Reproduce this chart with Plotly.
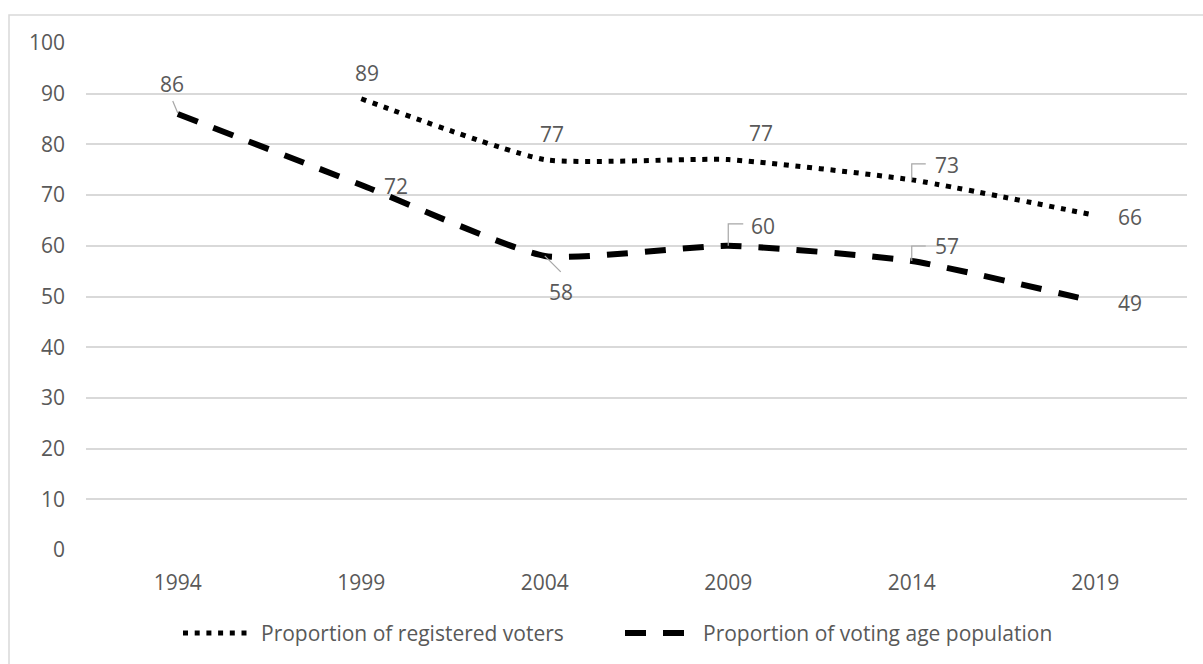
import plotly.graph_objects as go

# ---- data -------------------------------------------------------------
years = ["1994", "1999", "2004", "2009", "2014", "2019"]
registered_name = "Proportion of registered voters"
registered = [None, 89, 77, 77, 73, 66]
vap_name = "Proportion of voting age population"
vap = [86, 72, 58, 60, 57, 49]

# ---- geometry / style ---------------------------------------------------
W, H = 1203, 664
L, R, T, B = 86, 16, 43, 114
PW, PH = W - L - R, H - T - B
FONT = "Open Sans"
FS = 21
TXT = "#595959"
GRID = "#d9d9d9"
LEADER = "#a6a6a6"
DOT = "5px,6.7px"
DASH = "21px,17px"
SMOOTH = 0.5


def px_x(px):
    return (px - L) / PW


def px_y(py):
    return (H - B - py) / PH


fig = go.Figure()
fig.add_trace(go.Scatter(
    x=years, y=registered, name=registered_name, mode="lines",
    line=dict(color="black", width=5, dash=DOT, shape="spline", smoothing=SMOOTH),
    connectgaps=False, showlegend=False, hoverinfo="skip"))
fig.add_trace(go.Scatter(
    x=years, y=vap, name=vap_name, mode="lines",
    line=dict(color="black", width=6, dash=DASH, shape="spline", smoothing=SMOOTH),
    showlegend=False, hoverinfo="skip"))

# label offsets (pixels) and optional leader paths, keyed by series/year
reg_labels = {
    "1999": (6, 26, None),
    "2004": (7, 26, None),
    "2009": (33, 27, None),
    "2014": (35, 15, "M0,0 L0,16 L14,16"),
    "2019": (35, -2, None),
}
vap_labels = {
    "1994": (-6, 30, "M0,1 L-5,13"),
    "1999": (35, -1, None),
    "2004": (16, -36, "M0,0 L16,-16"),
    "2009": (35, 20, "M0,0 L0,22 L15,22"),
    "2014": (35, 15, "M0,0 L0,15 L14,15"),
    "2019": (35, -1, None),
}

annotations = []
shapes = []
for values, spec in ((registered, reg_labels), (vap, vap_labels)):
    for i, (yr, v) in enumerate(zip(years, values)):
        if v is None or yr not in spec:
            continue
        dx, dy, path = spec[yr]
        annotations.append(dict(
            x=i, y=v, xref="x", yref="y", text=str(v), showarrow=False,
            xshift=dx, yshift=dy, font=dict(family=FONT, size=FS, color=TXT)))
        if path:
            shapes.append(dict(
                type="path", xref="x", yref="y", xsizemode="pixel",
                ysizemode="pixel", xanchor=i, yanchor=v, path=path,
                line=dict(color=LEADER, width=1.2)))

# legend drawn by hand so the line samples keep their long length
legend_y = 633
for name, dash, width, x0, x1, tx in (
        (registered_name, DOT, 5, 183, 250, 259),
        (vap_name, DASH, 6, 625, 693, 701)):
    shapes.append(dict(
        type="line", xref="paper", yref="paper",
        x0=px_x(x0), x1=px_x(x1), y0=px_y(legend_y), y1=px_y(legend_y),
        line=dict(color="black", width=width, dash=dash)))
    annotations.append(dict(
        x=px_x(tx), y=px_y(legend_y), xref="paper", yref="paper",
        xanchor="left", yanchor="middle", text=name, showarrow=False,
        font=dict(family=FONT, size=FS, color=TXT)))

# chart frame
shapes.append(dict(
    type="rect", xref="paper", yref="paper", layer="below",
    x0=px_x(9), x1=px_x(W + 20), y0=px_y(H + 20), y1=px_y(15),
    line=dict(color=GRID, width=1.5), fillcolor="rgba(0,0,0,0)"))

fig.update_layout(
    width=W, height=H,
    margin=dict(l=L, r=R, t=T, b=B, pad=0),
    paper_bgcolor="white", plot_bgcolor="white",
    font=dict(family=FONT, size=FS, color=TXT),
    annotations=annotations, shapes=shapes,
    xaxis=dict(type="category", categoryorder="array", categoryarray=years,
               range=[-0.5, 5.5], showgrid=False, zeroline=False,
               showline=False, ticks="", ticklabelstandoff=18,
               tickfont=dict(family=FONT, size=FS, color=TXT)),
    yaxis=dict(range=[0, 100], dtick=10, tick0=0, showgrid=True,
               gridcolor=GRID, gridwidth=1.5, zeroline=False,
               showline=False, ticks="", ticklabelstandoff=20,
               tickfont=dict(family=FONT, size=FS, color=TXT)),
)

fig.write_html("out.html")
